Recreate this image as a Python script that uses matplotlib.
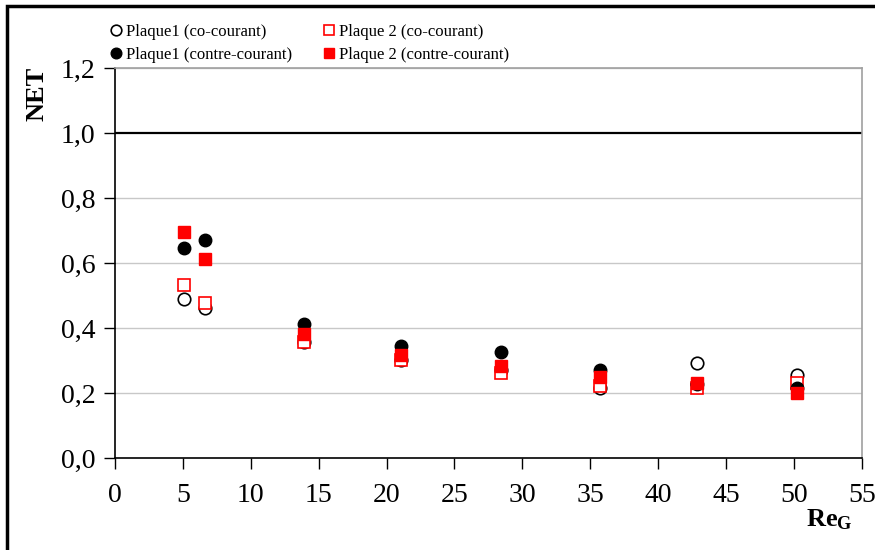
import matplotlib
matplotlib.use('Agg')
import matplotlib.pyplot as plt
from matplotlib.patches import Rectangle

plt.rcParams['font.family'] = ['Liberation Serif', 'DejaVu Serif']
plt.rcParams['mathtext.fontset'] = 'custom'
plt.rcParams['mathtext.rm'] = 'Liberation Serif'
plt.rcParams['mathtext.bf'] = 'Liberation Serif:bold'

# Reynolds number of the gas
re_g = [5.1, 6.6, 13.9, 21.1, 28.4, 35.7, 42.9, 50.2]

# NET values
p1_co = [0.489, 0.462, 0.357, 0.300, 0.272, 0.215, 0.292, 0.255]
p1_contre = [0.646, 0.671, 0.413, 0.345, 0.326, 0.272, 0.228, 0.215]
p2_co = [0.532, 0.477, 0.356, 0.300, 0.262, 0.222, 0.215, 0.232]
p2_contre = [0.695, 0.612, 0.382, 0.317, 0.282, 0.248, 0.232, 0.199]

labels = ['Plaque1 (co-courant)', 'Plaque1 (contre-courant)',
          'Plaque 2 (co-courant)', 'Plaque 2 (contre-courant)']
yticks = [0.0, 0.2, 0.4, 0.6, 0.8, 1.0, 1.2]
xticks = [0, 5, 10, 15, 20, 25, 30, 35, 40, 45, 50, 55]

fig = plt.figure(figsize=(8.75, 5.5), dpi=100)
ax = fig.add_axes([0.1314, 0.1673, 0.8535, 0.7091])

ms = 9
h1, = ax.plot(re_g, p1_co, 'o', ms=ms, mfc='white', mec='black', mew=1.2, zorder=3)
h3, = ax.plot(re_g, p2_co, 's', ms=ms, mfc='white', mec='red', mew=1.2, zorder=4)
h2, = ax.plot(re_g, p1_contre, 'o', ms=ms, mfc='black', mec='black', zorder=5)
h4, = ax.plot(re_g, p2_contre, 's', ms=ms, mfc='red', mec='red', zorder=6)

ax.axhline(1.0, color='black', lw=1.6, zorder=2)
for yv in yticks[1:]:
    if yv != 1.0:
        ax.axhline(yv, color='#c8c8c8', lw=1.0, zorder=1)

ax.set_xlim(0, 55)
ax.set_ylim(0, 1.2)
ax.set_xticks(xticks)
ax.set_yticks(yticks)
ax.set_yticklabels([('%.1f' % v).replace('.', ',') for v in yticks])
ax.tick_params(direction='out', length=8, width=1, labelsize=20, pad=6)
ax.tick_params(axis='x', pad=10)
for s in ['left', 'bottom']:
    ax.spines[s].set_color('black')
    ax.spines[s].set_linewidth(1.2)
for s in ['top', 'right']:
    ax.spines[s].set_color('#a0a0a0')
    ax.spines[s].set_linewidth(1.2)

fig.text(0.042, 0.83, 'NET', rotation=90, fontsize=19, fontweight='bold',
         ha='center', va='center')
fig.text(0.948, 0.055, r'$\mathbf{Re_G}$', fontsize=19,
         ha='center', va='center')

fig.legend([h1, h2, h3, h4], labels, ncol=2, loc='upper left',
           bbox_to_anchor=(0.114, 0.978), frameon=False, fontsize=12,
           markerscale=0.85, handlelength=0.6, handletextpad=0.3,
           columnspacing=1.9, labelspacing=0.45, borderpad=0.2)

fig.patches.append(Rectangle((0.008, -0.1), 1.2, 1.1 - 0.011, transform=fig.transFigure,
                             fill=False, ec='black', lw=2.5))

plt.savefig('out.png', dpi=100)
